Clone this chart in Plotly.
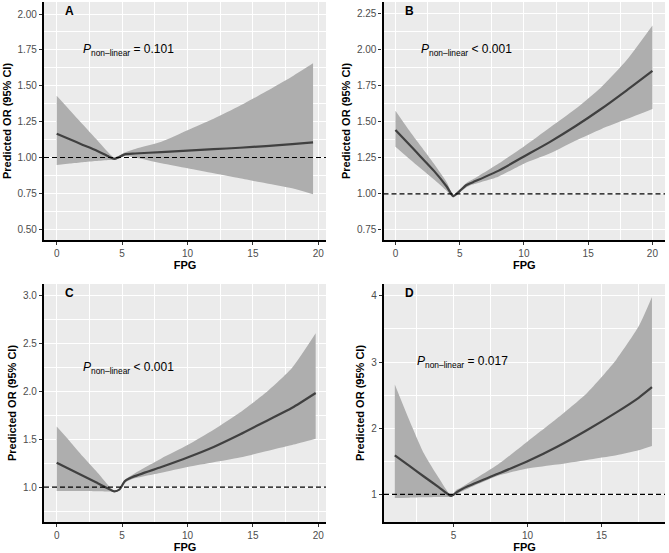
import plotly.graph_objects as go

# panel A
a_x = [0, 1, 2, 3, 4, 4.4, 4.7, 5.2, 6, 8, 10, 12, 14, 16, 18, 19.6]
a_fit = [1.165, 1.127, 1.088, 1.05, 1.005, 0.99, 1.0, 1.022, 1.028, 1.038, 1.048, 1.058, 1.068, 1.08, 1.093, 1.105]
a_upper = [1.43, 1.33, 1.23, 1.13, 1.03, 1.0, 1.01, 1.035, 1.06, 1.11, 1.19, 1.27, 1.36, 1.46, 1.565, 1.657]
a_lower = [0.948, 0.958, 0.967, 0.975, 0.982, 0.983, 0.99, 1.01, 1.0, 0.96, 0.925, 0.89, 0.855, 0.82, 0.785, 0.744]

# panel B
b_x = [0, 1, 2, 3, 4, 4.5, 5, 5.5, 6, 8, 10, 12, 14, 16, 18, 20]
b_fit = [1.444, 1.35, 1.255, 1.16, 1.05, 0.985, 1.02, 1.06, 1.08, 1.16, 1.26, 1.36, 1.47, 1.59, 1.72, 1.855]
b_upper = [1.578, 1.45, 1.33, 1.21, 1.08, 0.995, 1.03, 1.075, 1.10, 1.21, 1.33, 1.46, 1.59, 1.74, 1.93, 2.17]
b_lower = [1.328, 1.25, 1.175, 1.10, 1.02, 0.975, 1.01, 1.045, 1.065, 1.12, 1.21, 1.28, 1.37, 1.45, 1.52, 1.59]

# panel C
c_x = [0, 1, 2, 3, 4, 4.4, 4.8, 5.2, 5.8, 8, 10, 12, 14, 16, 18, 19.8]
c_fit = [1.255, 1.186, 1.118, 1.05, 0.98, 0.955, 0.975, 1.06, 1.105, 1.21, 1.31, 1.42, 1.55, 1.69, 1.83, 1.985]
c_upper = [1.633, 1.48, 1.32, 1.17, 1.01, 0.965, 0.985, 1.075, 1.13, 1.30, 1.44, 1.60, 1.78, 1.99, 2.25, 2.61]
c_lower = [0.96, 0.96, 0.96, 0.958, 0.955, 0.95, 0.965, 1.045, 1.085, 1.15, 1.21, 1.26, 1.31, 1.375, 1.44, 1.505]

# panel D
d_x = [1.04, 2, 3, 4, 4.85, 5.2, 5.5, 6, 8, 10, 12, 14, 16, 17.5, 18.4]
d_fit = [1.588, 1.433, 1.27, 1.11, 0.975, 1.03, 1.07, 1.125, 1.31, 1.50, 1.72, 1.97, 2.24, 2.46, 2.62]
d_upper = [2.66, 2.13, 1.62, 1.25, 0.985, 1.07, 1.1, 1.17, 1.45, 1.80, 2.15, 2.53, 3.04, 3.54, 3.985]
d_lower = [0.945, 0.95, 0.955, 0.96, 0.965, 1.0, 1.04, 1.09, 1.28, 1.39, 1.45, 1.52, 1.59, 1.665, 1.73]

letters = ["A", "B", "C", "D"]
p_labels = ["= 0.101", "< 0.001", "< 0.001", "= 0.017"]
p_pos = [(5.5, 1.75), (5.5, 2.0), (5.5, 2.25), (5.6, 3.0)]

panels = [
    (a_x, a_fit, a_upper, a_lower),
    (b_x, b_fit, b_upper, b_lower),
    (c_x, c_fit, c_upper, c_lower),
    (d_x, d_fit, d_upper, d_lower),
]

W, H = 669, 553
ml, mr, mt, mb = 44, 4, 2, 31
pw, ph = W - ml - mr, H - mt - mb

def xdom(left, right):
    return [(left - ml) / pw, (right - ml) / pw]

def ydom(top, bottom):
    return [(H - mb - bottom) / ph, (H - mb - top) / ph]

x_domains = [xdom(44, 326), xdom(383.5, 665), xdom(44, 326), xdom(384, 665)]
y_domains = [ydom(2, 240), ydom(2, 240), ydom(284, 522), ydom(284, 522)]
x_ranges = [[-0.97, 20.59], [-0.93, 20.98], [-0.97, 20.59], [0.31, 19.28]]
y_ranges = [[0.425, 2.084], [0.68, 2.333], [0.635, 3.125], [0.582, 4.18]]
y_dticks = [0.25, 0.25, 0.5, 1]
y_formats = [".2f", ".2f", ".1f", "d"]

fig = go.Figure()
tick_font = dict(family="Liberation Sans, Arial", size=10, color="#4D4D4D")
title_font = dict(family="Liberation Sans, Arial", size=11, color="black", weight="bold")

for i, (xs, fit, up, lo) in enumerate(panels):
    n = "" if i == 0 else str(i + 1)
    xa, ya = "x" + n, "y" + n
    fig.add_trace(go.Scatter(x=xs, y=up, xaxis=xa, yaxis=ya, mode="lines",
                             line=dict(width=0, shape="spline", smoothing=0.6),
                             showlegend=False, hoverinfo="skip"))
    fig.add_trace(go.Scatter(x=xs, y=lo, xaxis=xa, yaxis=ya, mode="lines",
                             line=dict(width=0, shape="spline", smoothing=0.6),
                             fill="tonexty", fillcolor="#AEAEAE",
                             showlegend=False, hoverinfo="skip"))
    fig.add_trace(go.Scatter(x=xs, y=fit, xaxis=xa, yaxis=ya, mode="lines",
                             line=dict(color="#404040", width=2.2, shape="spline", smoothing=0.6),
                             showlegend=False))

    axis_common = dict(showline=True, linecolor="black", linewidth=2.3,
                       ticks="outside", ticklen=3, tickcolor="#333333", tickwidth=1,
                       tickfont=tick_font, gridcolor="white", gridwidth=1.1,
                       zeroline=False, mirror=False, automargin=False)
    fig.layout["xaxis" + n] = dict(axis_common, domain=x_domains[i], range=x_ranges[i],
                                   anchor=ya, dtick=5, tick0=0,
                                   minor=dict(dtick=2.5, tick0=0, showgrid=True,
                                              gridcolor="white", gridwidth=0.5),
                                   title=dict(text="FPG", font=title_font, standoff=2))
    fig.layout["yaxis" + n] = dict(axis_common, domain=y_domains[i], range=y_ranges[i],
                                   anchor=xa, dtick=y_dticks[i], tick0=0,
                                   tickformat=y_formats[i],
                                   minor=dict(dtick=y_dticks[i] / 2, tick0=0, showgrid=True,
                                              gridcolor="white", gridwidth=0.5),
                                   title=dict(text="Predicted OR (95% CI)", font=title_font,
                                              standoff=4))

    fig.add_shape(type="line", xref=xa + " domain", yref=ya, x0=0, x1=1, y0=1, y1=1,
                  line=dict(color="black", width=1.2, dash="5px,3px"), layer="above")

    fig.add_annotation(xref=xa + " domain", yref=ya + " domain", x=0.068, y=0.962,
                       xanchor="left", yanchor="middle", showarrow=False, text=letters[i],
                       font=dict(family="Liberation Sans, Arial", size=12, color="black",
                                 weight="bold"))
    px_, py_ = p_pos[i]
    fig.add_annotation(xref=xa, yref=ya, x=px_, y=py_, xanchor="center", yanchor="middle",
                       showarrow=False,
                       text="<i>P</i><sub>non\u2013linear</sub> " + p_labels[i],
                       font=dict(family="Liberation Sans, Arial", size=12, color="black"))

fig.update_layout(width=W, height=H, margin=dict(l=ml, r=mr, t=mt, b=mb),
                  paper_bgcolor="white", plot_bgcolor="#EBEBEB")

# page body margin would shift the figure by 8px
fig.write_html("out.html", config={"displayModeBar": False},
               post_script="document.body.style.margin='0px';")
